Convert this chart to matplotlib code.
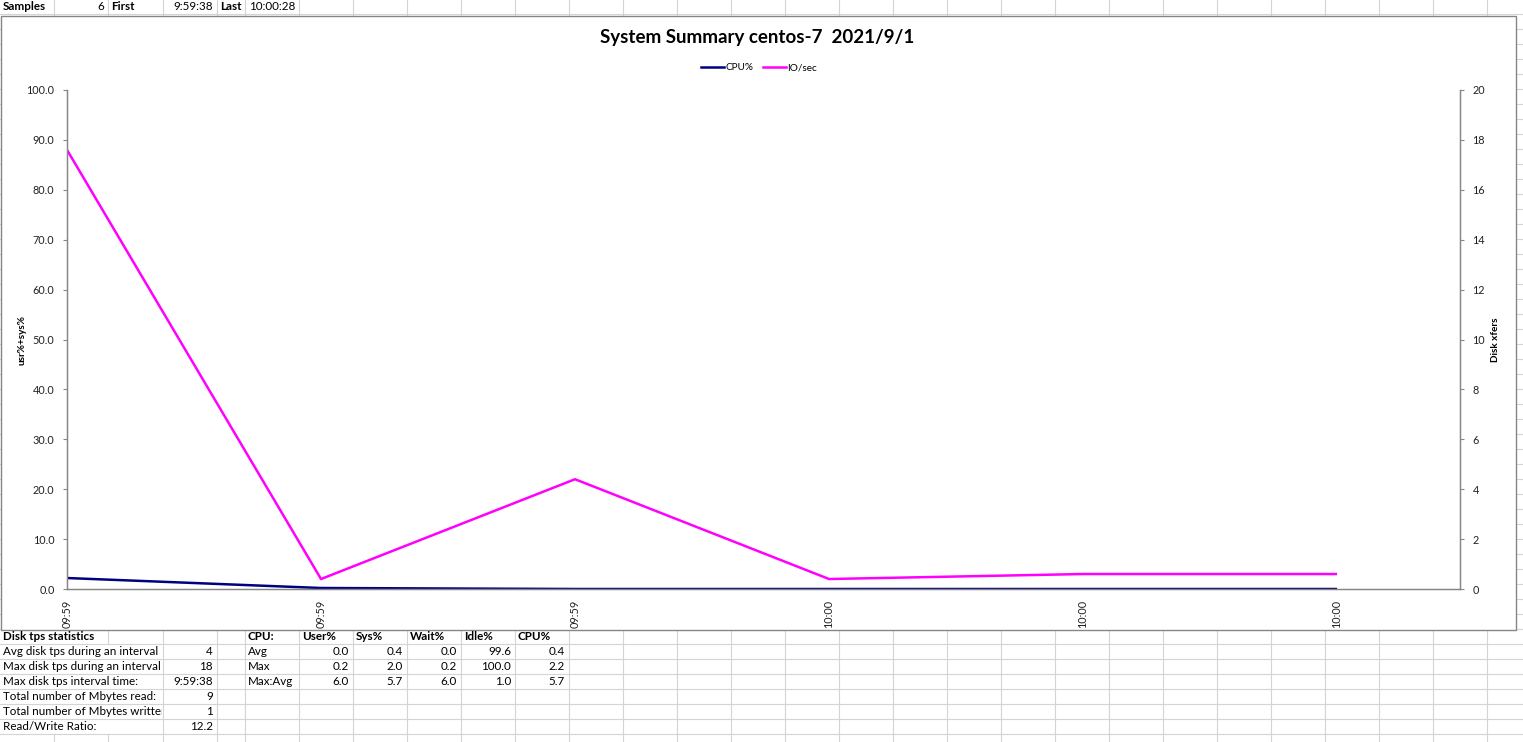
import matplotlib
matplotlib.use("Agg")
import matplotlib.pyplot as plt
from matplotlib.patches import Rectangle
from matplotlib.lines import Line2D

# ─────────────────────────────────────────────
# data
# ─────────────────────────────────────────────
SAMPLE_TIMES = ["09:59", "09:59", "09:59", "10:00", "10:00", "10:00"]
CPU_PCT = [2.2, 0.2, 0.0, 0.0, 0.0, 0.0]
IO_SEC = [17.6, 0.4, 4.4, 0.4, 0.6, 0.6]

TITLE = "System Summary centos-7  2021/9/1"

HEADER_CELLS = [  # (col, text, bold, align)
    (0, "Samples", True, "left"), (1, "6", False, "right"),
    (2, "First", True, "left"), (3, "9:59:38", False, "right"),
    (4, "Last", True, "left"), (5, "10:00:28", False, "right"),
]

DISK_LABELS = [
    "Avg disk tps during an interval",
    "Max disk tps during an interval",
    "Max disk tps interval time:",
    "Total number of Mbytes read:",
    "Total number of Mbytes written:",
    "Read/Write Ratio:",
]
DISK_VALUES = ["4", "18", "9:59:38", "9", "1", "12.2"]

CPU_HEADERS = ["CPU:", "User%", "Sys%", "Wait%", "Idle%", "CPU%"]
CPU_ROWS = ["Avg", "Max", "Max:Avg"]
CPU_VALUES = [
    ["0.0", "0.4", "0.0", "99.6", "0.4"],
    ["0.2", "2.0", "0.2", "100.0", "2.2"],
    ["6.0", "5.7", "6.0", "1.0", "5.7"],
]

# ─────────────────────────────────────────────
# layout (pixels)
# ─────────────────────────────────────────────
W, H = 1523, 742
COL_EDGES = [0, 54, 108, 163, 217, 245] + [299 + 54 * k for k in range(25)]
ROW_EDGES = [14 + 15 * k for k in range(50)]
GRID = "#d4d4d4"
AXC = "#868686"
TXT = "#222222"
CELL_FONT = ["Lato", "DejaVu Sans"]
CHART_FONT = ["Lato", "DejaVu Sans"]

fig = plt.figure(figsize=(W / 100, H / 100), dpi=100, facecolor="white")
bg = fig.add_axes([0, 0, 1, 1])
bg.set_xlim(0, W)
bg.set_ylim(H, 0)
bg.axis("off")

# spreadsheet grid; hide vertical lines where disk labels overflow
row_tops = [-1] + ROW_EDGES
for i in range(len(row_tops) - 1):
    y0, y1 = row_tops[i], row_tops[i + 1]
    for x in COL_EDGES[1:]:
        hidden = (644 <= y0 < 734 and x in (54, 108)) or (y0 == 629 and x == 54)
        if not hidden:
            bg.plot([x, x], [y0, y1], color=GRID, lw=0.8, zorder=1)
for y in ROW_EDGES:
    bg.plot([0, W], [y, y], color=GRID, lw=0.8, zorder=1)

# chart area
bg.add_patch(Rectangle((0.5, 15.5), 1515.5, 614.5, facecolor="white",
                       edgecolor=AXC, lw=1.0, zorder=2))


def cell(col, row_top, text, bold=False, align="left", clip_to=None):
    x0, x1 = COL_EDGES[col], COL_EDGES[col + 1]
    x = x0 + 3 if align == "left" else x1 - 4
    t = bg.text(x, row_top + 7.5, text, ha=align, va="center", fontsize=8.4,
                fontweight="bold" if bold else "normal", color="black",
                family=CELL_FONT, zorder=3)
    if clip_to is not None:
        clip = Rectangle((0, row_top), clip_to, 15, transform=bg.transData)
        t.set_clip_path(clip)
        t.set_clip_on(True)
    return t


for col, text, bold, align in HEADER_CELLS:
    cell(col, -1, text, bold, align)

cell(0, 629, "Disk tps statistics", bold=True)
for i, (lab, val) in enumerate(zip(DISK_LABELS, DISK_VALUES)):
    top = 644 + 15 * i
    cell(0, top, lab, clip_to=162)
    cell(3, top, val, align="right")

for j, head in enumerate(CPU_HEADERS):
    cell(5 + j, 629, head, bold=True)
for i, (rname, vals) in enumerate(zip(CPU_ROWS, CPU_VALUES)):
    top = 644 + 15 * i
    cell(5, top, rname)
    for j, v in enumerate(vals):
        cell(6 + j, top, v, align="right")

# ─────────────────────────────────────────────
# chart
# ─────────────────────────────────────────────
L, R, T, B = 67, 1460, 90, 589
ax = fig.add_axes([L / W, (H - B) / H, (R - L) / W, (B - T) / H])
ax.set_zorder(4)
ax.patch.set_alpha(0)
ax2 = ax.twinx()

x = list(range(len(SAMPLE_TIMES)))
ax.plot(x, CPU_PCT, color="#000080", lw=1.8, solid_capstyle="butt")
ax2.plot(x, IO_SEC, color="#ff00ff", lw=1.8, solid_capstyle="butt")

ax.set_xlim(0, 5.484)
ax.set_ylim(0, 100)
ax2.set_ylim(0, 20)
ax.set_yticks(range(0, 101, 10))
ax.set_yticklabels([f"{v:.1f}" for v in range(0, 101, 10)])
ax2.set_yticks(range(0, 21, 2))
ax.set_xticks(x)
ax.set_xticklabels(SAMPLE_TIMES, rotation=90, va="top", ha="center")

for a in (ax, ax2):
    for s in a.spines.values():
        s.set_color(AXC)
        s.set_linewidth(0.9)
    a.spines["top"].set_visible(False)
    a.tick_params(axis="y", length=3, width=0.8, color=AXC, pad=6,
                  labelsize=7.8, labelcolor=TXT)
    for lbl in a.get_yticklabels():
        lbl.set_family(CHART_FONT)
ax.tick_params(axis="x", length=0, pad=8, labelsize=7.8, labelcolor=TXT)
for lbl in ax.get_xticklabels():
    lbl.set_family(CHART_FONT)

fig.text(757 / W, 1 - 38 / H, TITLE, ha="center", va="center", fontsize=13.5,
         fontweight="bold", family=CHART_FONT, color="black")
fig.text(22 / W, 1 - 340 / H, "usr%+sys%", rotation=90, ha="center", va="center",
         fontsize=7.2, fontweight="bold", family=CHART_FONT, color="black")
fig.text(1496 / W, 1 - 340 / H, "Disk xfers", rotation=90, ha="center", va="center",
         fontsize=7.2, fontweight="bold", family=CHART_FONT, color="black")

handles = [Line2D([], [], color="#000080", lw=1.8),
           Line2D([], [], color="#ff00ff", lw=1.8)]
fig.legend(handles, ["CPU%", "IO/sec"], loc="center", ncol=2,
           bbox_to_anchor=(759 / W, 1 - 68 / H), frameon=False,
           prop={"family": CHART_FONT, "size": 7.2}, handlelength=2.3,
           handletextpad=0.15, columnspacing=1.0)

fig.savefig("out.png", dpi=100, facecolor="white")
